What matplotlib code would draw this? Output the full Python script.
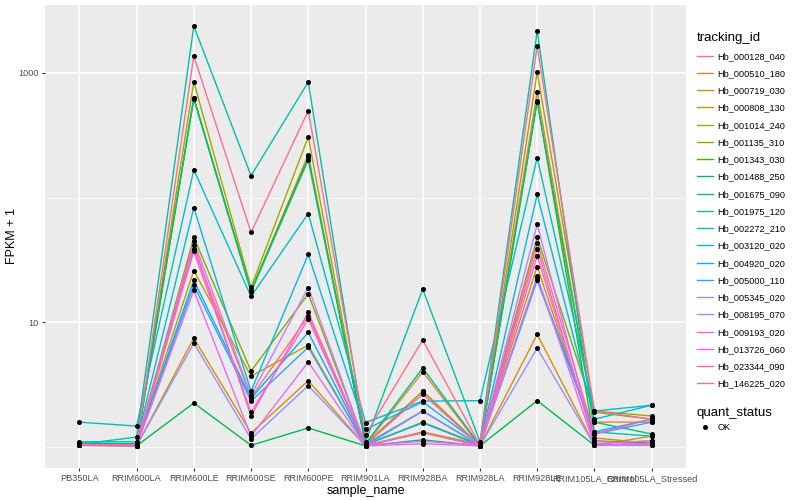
import numpy as np
import matplotlib
matplotlib.use("Agg")
import matplotlib.pyplot as plt
from matplotlib.lines import Line2D

plt.rcParams['font.family'] = ['Liberation Sans', 'DejaVu Sans']

# ── Data (FPKM + 1) ────────────────────────────────────────
SAMPLES = ["PB350LA", "RRIM600LA", "RRIM600LE", "RRIM600SE", "RRIM600PE",
           "RRIM901LA", "RRIM928BA", "RRIM928LA", "RRIM928LE",
           "RRIM105LA_Control", "RRIM105LA_Stressed"]

TRACKING_IDS = ["Hb_000128_040", "Hb_000510_180", "Hb_000719_030", "Hb_000808_130",
                "Hb_001014_240", "Hb_001135_310", "Hb_001343_030", "Hb_001488_250",
                "Hb_001675_090", "Hb_001975_120", "Hb_002272_210", "Hb_003120_020",
                "Hb_004920_020", "Hb_005000_110", "Hb_005345_020", "Hb_008195_070",
                "Hb_009193_020", "Hb_013726_060", "Hb_023344_090", "Hb_146225_020"]

HB_000128_040 = [1.04, 1.02, 39, 2.5, 11.2, 1.05, 2.8, 1.03, 39, 1.06, 1.12]
HB_000510_180 = [1.05, 1.03, 631, 17.7, 221, 1.04, 4.0, 1.02, 705, 1.58, 1.58]
HB_000719_030 = [1.03, 1.02, 7.45, 1.29, 3.4, 1.02, 1.3, 1.02, 8.0, 1.03, 1.22]
HB_000808_130 = [1.05, 1.04, 26, 3.7, 6.55, 1.03, 1.32, 1.05, 28, 1.18, 1.07]
HB_001014_240 = [1.08, 1.05, 847, 19.05, 307, 1.05, 2.8, 1.02, 1019, 1.94, 1.77]
HB_001135_310 = [1.06, 1.04, 48, 4.06, 16.9, 1.04, 1.58, 1.04, 48, 1.9, 1.67]
HB_001343_030 = [1.07, 1.06, 631, 18, 210, 1.05, 1.94, 1.03, 597, 1.12, 1.07]
HB_001488_250 = [1.04, 1.02, 2.25, 1.03, 1.42, 1.02, 1.14, 1.02, 2.35, 1.03, 1.03]
HB_001675_090 = [1.06, 1.05, 620, 17.5, 201, 1.06, 4.29, 1.03, 590, 1.58, 1.27]
HB_001975_120 = [1.05, 1.2, 2380, 150, 847, 1.1, 18.4, 1.1, 2168, 1.32, 1.22]
HB_002272_210 = [1.58, 1.47, 167, 16.1, 74.5, 1.57, 2.33, 2.35, 209, 1.94, 2.16]
HB_003120_020 = [1.1, 1.1, 83, 2.8, 35, 1.38, 2.3, 1.05, 106, 1.67, 2.16]
HB_004920_020 = [1.05, 1.04, 21.7, 2.45, 8.3, 1.04, 1.56, 1.03, 22.5, 1.32, 1.67]
HB_005000_110 = [1.04, 1.03, 19.8, 2.33, 6.3, 1.03, 1.94, 1.03, 21.7, 1.27, 1.58]
HB_005345_020 = [1.03, 1.02, 6.8, 1.16, 3.1, 1.02, 1.94, 1.02, 6.2, 1.03, 1.03]
HB_008195_070 = [1.04, 1.03, 44.5, 2.6, 19, 1.03, 1.11, 1.03, 61, 1.06, 1.12]
HB_009193_020 = [1.03, 1.02, 18, 1.22, 4.8, 1.02, 1.06, 1.02, 23.3, 1.03, 1.07]
HB_013726_060 = [1.04, 1.03, 37, 1.9, 10.6, 1.03, 1.3, 1.03, 34, 1.12, 1.03]
HB_023344_090 = [1.04, 1.03, 42, 1.77, 12, 1.04, 2.65, 1.03, 43.6, 1.27, 1.67]
HB_146225_020 = [1.05, 1.02, 1368, 52.5, 497, 1.25, 7.2, 1.03, 1644, 1.94, 1.67]

SERIES = [HB_000128_040, HB_000510_180, HB_000719_030, HB_000808_130,
          HB_001014_240, HB_001135_310, HB_001343_030, HB_001488_250,
          HB_001675_090, HB_001975_120, HB_002272_210, HB_003120_020,
          HB_004920_020, HB_005000_110, HB_005345_020, HB_008195_070,
          HB_009193_020, HB_013726_060, HB_023344_090, HB_146225_020]

# ggplot2 hue_pal()(20)
COLORS = ["#F8766D", "#EA8331", "#D89000", "#C09B00", "#A3A500", "#7CAE00",
          "#39B600", "#00BB4E", "#00BF7D", "#00C1A3", "#00BFC4", "#00BAE0",
          "#00B0F6", "#35A2FF", "#9590FF", "#C77CFF", "#E76BF3", "#FA62DB",
          "#FF62BC", "#FF6C91"]

# ── Figure ─────────────────────────────────────────────────
fig = plt.figure(figsize=(8, 5), dpi=100)
ax = fig.add_axes([45 / 800, 1 - 468 / 500, 641 / 800, 463 / 500])
ax.set_facecolor('#EBEBEB')

x = np.arange(len(SAMPLES))
for vals, col in zip(SERIES, COLORS):
    ax.plot(x, vals, color=col, lw=1.0, zorder=2)
for vals in SERIES:
    ax.plot(x, vals, 'o', color='black', ms=2.6, zorder=3)

ax.set_yscale('log')
ax.set_ylim(10 ** -0.169, 10 ** 3.545)
ax.set_xlim(-0.6, len(SAMPLES) - 0.4)

ax.set_yticks([10, 1000])
ax.set_yticklabels(["10", "1000"])
ax.set_yticks([1, 100], minor=True)
ax.yaxis.set_minor_formatter(plt.NullFormatter())
ax.set_xticks(x)
ax.set_xticklabels(SAMPLES)

ax.grid(True, which='major', color='white', lw=1.1, zorder=0)
ax.grid(True, which='minor', axis='y', color='white', lw=0.5, zorder=0)
ax.set_axisbelow(True)
for s in ax.spines.values():
    s.set_visible(False)
ax.tick_params(axis='both', which='major', length=2.5, color='#333333',
               labelsize=6.6, labelcolor='#4D4D4D', pad=2)
ax.tick_params(axis='y', which='minor', length=0)

ax.set_xlabel("sample_name", fontsize=9, labelpad=1)
ax.set_ylabel("FPKM + 1", fontsize=9)
ax.yaxis.set_label_coords(-27 / 641, 0.5)

# ── Legends ────────────────────────────────────────────────
handles = [Line2D([0], [0], color=c, lw=1.0) for c in COLORS]
leg1 = fig.legend(handles, TRACKING_IDS, title="tracking_id",
                  loc='upper left', bbox_to_anchor=(693 / 800, 1 - 28 / 500),
                  frameon=False, fontsize=6.6, title_fontsize=9.5,
                  handlelength=1.8, labelspacing=0.9, handletextpad=0.5,
                  borderaxespad=0)
leg1._legend_box.align = "left"

h2 = [Line2D([0], [0], marker='o', color='black', lw=0, ms=2.6)]
leg2 = fig.legend(h2, ["OK"], title="quant_status",
                  loc='upper left', bbox_to_anchor=(693 / 800, 1 - 403 / 500),
                  frameon=False, fontsize=6.6, title_fontsize=9.5,
                  handlelength=1.8, handletextpad=0.5, borderaxespad=0)
leg2._legend_box.align = "left"

fig.savefig("out.png", dpi=100, facecolor='white')
